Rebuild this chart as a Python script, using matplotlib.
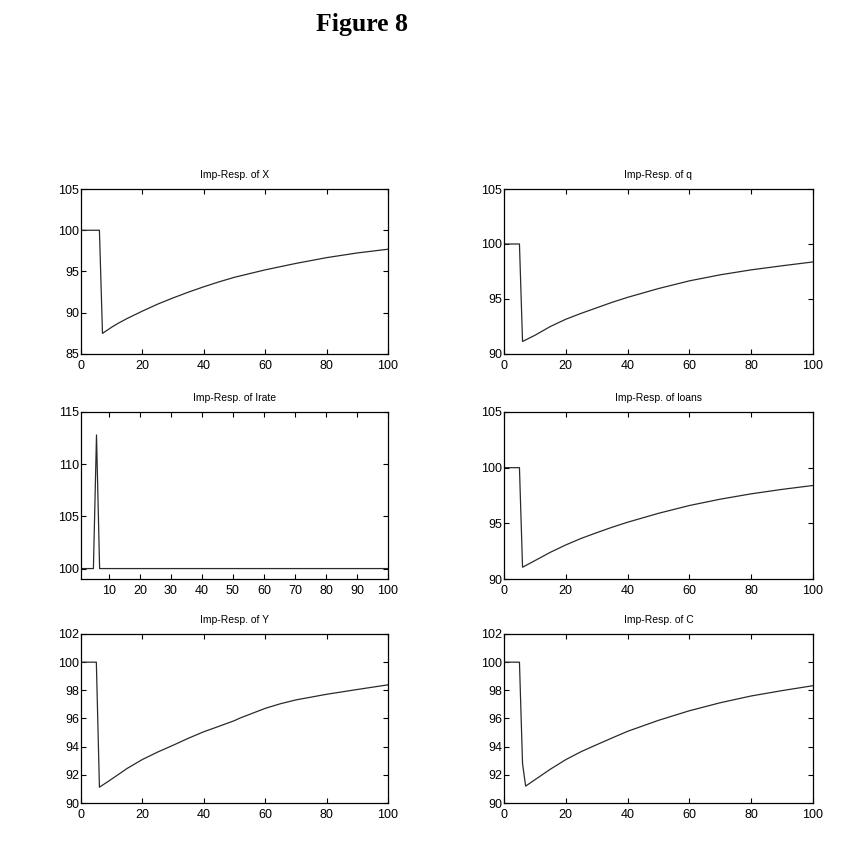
import matplotlib
matplotlib.use("Agg")
import matplotlib.pyplot as plt

# ---- data ----
t_X = [0, 1, 2, 3, 4, 5, 6, 7, 8, 10, 12, 15, 20, 25, 30, 35, 40, 45, 50, 60, 70, 80, 90, 100]
v_X = [100, 100, 100, 100, 100, 100, 100, 87.5, 87.75, 88.25, 88.7, 89.3, 90.2, 91.05, 91.8,
       92.5, 93.15, 93.75, 94.3, 95.2, 95.98, 96.68, 97.25, 97.7]

t_q = [0, 1, 2, 3, 4, 5, 6, 10, 15, 20, 25, 30, 35, 40, 50, 60, 70, 80, 90, 100]
v_q = [100, 100, 100, 100, 100, 100, 91.14, 91.7, 92.5, 93.16, 93.7, 94.2, 94.7, 95.15,
       95.95, 96.65, 97.2, 97.65, 98.02, 98.37]

t_irate = [1, 2, 3, 4, 5, 6, 7, 20, 40, 60, 80, 100]
v_irate = [100, 100, 100, 100, 100, 112.8, 100, 100, 100, 100, 100, 100]

t_loans = [0, 1, 2, 3, 4, 5, 6, 10, 15, 20, 25, 30, 35, 40, 50, 60, 70, 80, 90, 100]
v_loans = [100, 100, 100, 100, 100, 100, 91.06, 91.65, 92.4, 93.06, 93.65, 94.16, 94.65,
           95.1, 95.9, 96.6, 97.17, 97.65, 98.05, 98.4]

t_Y = [0, 1, 2, 3, 4, 5, 6, 10, 15, 20, 25, 30, 35, 40, 45, 50, 52, 55, 60, 65, 70, 80, 90, 100]
v_Y = [100, 100, 100, 100, 100, 100, 91.12, 91.7, 92.45, 93.09, 93.62, 94.1, 94.6, 95.06,
       95.45, 95.85, 96.05, 96.3, 96.72, 97.05, 97.32, 97.72, 98.06, 98.39]

t_C = [0, 1, 2, 3, 4, 5, 6, 7, 10, 15, 20, 25, 30, 35, 40, 50, 60, 70, 80, 90, 100]
v_C = [100, 100, 100, 100, 100, 100, 92.8, 91.2, 91.65, 92.4, 93.08, 93.65, 94.14, 94.62,
       95.09, 95.87, 96.55, 97.12, 97.6, 97.98, 98.33]

titles = ["Imp-Resp. of X", "Imp-Resp. of q", "Imp-Resp. of Irate",
          "Imp-Resp. of loans", "Imp-Resp. of Y", "Imp-Resp. of C"]
series = [(t_X, v_X), (t_q, v_q), (t_irate, v_irate),
          (t_loans, v_loans), (t_Y, v_Y), (t_C, v_C)]
ylims = [(85, 105), (90, 105), (99, 115), (90, 105), (90, 102), (90, 102)]
yticks = [[85, 90, 95, 100, 105], [90, 95, 100, 105], [100, 105, 110, 115],
          [90, 95, 100, 105], [90, 92, 94, 96, 98, 100, 102], [90, 92, 94, 96, 98, 100, 102]]
xlims = [(0, 100), (0, 100), (1, 100), (0, 100), (0, 100), (0, 100)]
xticks = [[0, 20, 40, 60, 80, 100], [0, 20, 40, 60, 80, 100],
          [10, 20, 30, 40, 50, 60, 70, 80, 90, 100],
          [0, 20, 40, 60, 80, 100], [0, 20, 40, 60, 80, 100], [0, 20, 40, 60, 80, 100]]

W, H = 850, 844
fig = plt.figure(figsize=(W / 100, H / 100), dpi=100)
fig.patch.set_facecolor("white")

cols = [(81, 388), (504, 813)]
rows = [(189, 354), (412, 579), (634, 803)]

plt.rcParams["font.family"] = ["Liberation Sans", "DejaVu Sans"]

for i in range(6):
    r, c = divmod(i, 2)
    x0, x1 = cols[c]
    y0, y1 = rows[r]
    ax = fig.add_axes([x0 / W, 1 - y1 / H, (x1 - x0) / W, (y1 - y0) / H])
    t, v = series[i]
    ax.plot(t, v, color="#2a2a2a", linewidth=0.9)
    ax.set_xlim(*xlims[i])
    ax.set_ylim(*ylims[i])
    ax.set_xticks(xticks[i])
    ax.set_yticks(yticks[i])
    ax.tick_params(direction="in", top=True, right=True, length=3.5, width=0.8,
                   labelsize=9, colors="black")
    ax.tick_params(axis="x", pad=4)
    ax.tick_params(axis="y", pad=1.5)
    for s in ax.spines.values():
        s.set_linewidth(0.9)
        s.set_color("black")
    ax.set_title(titles[i], fontsize=7.5, pad=8)

fig.text(362 / W, 1 - 25 / H, "Figure 8", ha="center", va="center",
         fontsize=18.5, fontweight="bold", family=["Liberation Serif", "DejaVu Serif"])

fig.savefig("out.png", dpi=100, facecolor="white")
